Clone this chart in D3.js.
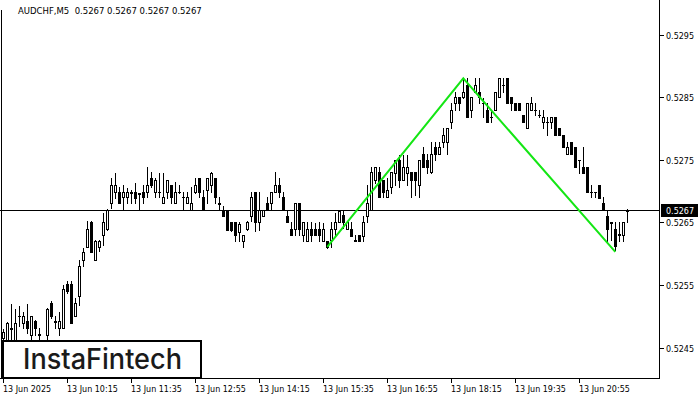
<!DOCTYPE html>
<html><head><meta charset="utf-8">
<script src="https://cdn.jsdelivr.net/npm/d3@7"></script>
<style>
html,body{margin:0;padding:0;background:#fff;}
svg{display:block;}
text{white-space:pre;}
</style></head>
<body>
<svg id="chart" width="700" height="400"></svg>
<script>
// ---- data (AUDCHF M5, 13 Jun 2025, bar 0 = 08:55) ----
const symbolTitle = "AUDCHF,M5  0.5267 0.5267 0.5267 0.5267";
const lastPrice = 0.5267;
const opens = [0.52466,0.52463,0.52482,0.52463,0.52501,0.52490,0.52492,0.52471,0.52492,0.52471,
0.52460,0.52471,0.52521,0.52493,0.52481,0.52481,0.52551,0.52551,0.52500,0.52532,
0.52590,0.52611,0.52651,0.52590,0.52611,0.52630,0.52640,0.52681,0.52699,0.52699,
0.52691,0.52691,0.52697,0.52699,0.52697,0.52699,0.52699,0.52721,0.52699,0.52699,
0.52681,0.52699,0.52710,0.52681,0.52699,0.52691,0.52681,0.52670,0.52699,0.52721,
0.52691,0.52702,0.52710,0.52721,0.52681,0.52670,0.52670,0.52651,0.52651,0.52635,
0.52620,0.52639,0.52660,0.52699,0.52651,0.52660,0.52681,0.52681,0.52699,0.52710,
0.52691,0.52661,0.52639,0.52639,0.52681,0.52630,0.52620,0.52639,0.52639,0.52639,
0.52620,0.52620,0.52622,0.52639,0.52650,0.52662,0.52639,0.52639,0.52622,0.52630,
0.52629,0.52660,0.52670,0.52718,0.52731,0.52718,0.52691,0.52707,0.52729,0.52750,
0.52718,0.52729,0.52730,0.52730,0.52709,0.52760,0.52750,0.52730,0.52770,0.52760,
0.52779,0.52779,0.52811,0.52841,0.52851,0.52851,0.52870,0.52830,0.52859,0.52859,
0.52841,0.52830,0.52819,0.52830,0.52851,0.52870,0.52880,0.52851,0.52841,0.52841,
0.52822,0.52801,0.52830,0.52830,0.52822,0.52811,0.52811,0.52811,0.52819,0.52801,
0.52790,0.52760,0.52779,0.52770,0.52750,0.52739,0.52739,0.52699,0.52699,0.52710,
0.52681,0.52661,0.52650,0.52639,0.52630,0.52630,0.52669];
const highs = [0.52480,0.52491,0.52520,0.52511,0.52516,0.52507,0.52520,0.52501,0.52494,0.52481,
0.52462,0.52513,0.52524,0.52500,0.52507,0.52550,0.52556,0.52556,0.52529,0.52590,
0.52609,0.52652,0.52652,0.52622,0.52622,0.52665,0.52672,0.52721,0.52729,0.52707,
0.52710,0.52705,0.52702,0.52713,0.52697,0.52710,0.52739,0.52731,0.52721,0.52729,
0.52729,0.52718,0.52710,0.52715,0.52710,0.52699,0.52699,0.52707,0.52721,0.52721,
0.52702,0.52721,0.52731,0.52721,0.52691,0.52676,0.52670,0.52651,0.52651,0.52651,
0.52630,0.52652,0.52699,0.52699,0.52699,0.52670,0.52691,0.52699,0.52730,0.52721,
0.52699,0.52670,0.52651,0.52681,0.52681,0.52650,0.52651,0.52651,0.52649,0.52651,
0.52649,0.52620,0.52651,0.52665,0.52670,0.52670,0.52651,0.52651,0.52630,0.52630,
0.52660,0.52710,0.52739,0.52739,0.52739,0.52718,0.52721,0.52731,0.52750,0.52758,
0.52758,0.52758,0.52730,0.52730,0.52750,0.52770,0.52760,0.52779,0.52779,0.52779,
0.52801,0.52801,0.52841,0.52859,0.52851,0.52880,0.52880,0.52851,0.52880,0.52880,
0.52848,0.52841,0.52830,0.52859,0.52880,0.52880,0.52880,0.52851,0.52841,0.52841,
0.52822,0.52841,0.52851,0.52841,0.52830,0.52830,0.52819,0.52819,0.52819,0.52801,
0.52790,0.52779,0.52779,0.52770,0.52750,0.52770,0.52739,0.52710,0.52699,0.52710,
0.52691,0.52669,0.52650,0.52650,0.52650,0.52650,0.52671];
const lows = [0.52455,0.52455,0.52463,0.52458,0.52484,0.52482,0.52473,0.52463,0.52471,0.52463,
0.52455,0.52463,0.52498,0.52482,0.52471,0.52481,0.52537,0.52489,0.52500,0.52518,
0.52580,0.52611,0.52602,0.52590,0.52604,0.52614,0.52638,0.52673,0.52689,0.52681,
0.52670,0.52681,0.52681,0.52681,0.52670,0.52681,0.52691,0.52707,0.52691,0.52691,
0.52681,0.52689,0.52681,0.52681,0.52697,0.52670,0.52681,0.52670,0.52697,0.52691,
0.52670,0.52681,0.52699,0.52681,0.52670,0.52660,0.52638,0.52636,0.52620,0.52620,
0.52611,0.52638,0.52652,0.52637,0.52638,0.52660,0.52670,0.52670,0.52699,0.52691,
0.52670,0.52651,0.52630,0.52630,0.52630,0.52620,0.52620,0.52620,0.52630,0.52620,
0.52620,0.52609,0.52611,0.52630,0.52650,0.52641,0.52639,0.52629,0.52620,0.52620,
0.52620,0.52650,0.52670,0.52713,0.52691,0.52691,0.52691,0.52697,0.52709,0.52707,
0.52718,0.52709,0.52691,0.52694,0.52691,0.52739,0.52729,0.52729,0.52750,0.52760,
0.52770,0.52760,0.52801,0.52830,0.52830,0.52848,0.52819,0.52819,0.52859,0.52841,
0.52819,0.52811,0.52811,0.52830,0.52851,0.52859,0.52841,0.52830,0.52830,0.52830,
0.52811,0.52801,0.52830,0.52822,0.52819,0.52801,0.52790,0.52801,0.52790,0.52790,
0.52770,0.52760,0.52760,0.52739,0.52729,0.52729,0.52699,0.52691,0.52691,0.52689,
0.52670,0.52620,0.52622,0.52606,0.52620,0.52620,0.52650];
const closes = [0.52475,0.52490,0.52480,0.52490,0.52500,0.52501,0.52481,0.52501,0.52481,0.52472,
0.52458,0.52511,0.52500,0.52491,0.52492,0.52543,0.52540,0.52489,0.52521,0.52581,
0.52602,0.52640,0.52602,0.52620,0.52620,0.52650,0.52670,0.52710,0.52710,0.52681,
0.52699,0.52699,0.52698,0.52689,0.52696,0.52691,0.52710,0.52710,0.52718,0.52698,
0.52691,0.52718,0.52691,0.52699,0.52698,0.52690,0.52691,0.52681,0.52710,0.52699,
0.52670,0.52721,0.52729,0.52691,0.52680,0.52660,0.52638,0.52638,0.52630,0.52648,
0.52630,0.52651,0.52691,0.52651,0.52670,0.52670,0.52670,0.52699,0.52710,0.52699,
0.52670,0.52651,0.52630,0.52681,0.52639,0.52650,0.52639,0.52630,0.52630,0.52630,
0.52639,0.52611,0.52639,0.52650,0.52669,0.52650,0.52650,0.52629,0.52621,0.52620,
0.52650,0.52681,0.52730,0.52739,0.52691,0.52699,0.52701,0.52731,0.52750,0.52718,
0.52739,0.52739,0.52718,0.52718,0.52750,0.52739,0.52739,0.52760,0.52760,0.52770,
0.52790,0.52801,0.52830,0.52851,0.52841,0.52859,0.52819,0.52851,0.52870,0.52851,
0.52840,0.52811,0.52818,0.52859,0.52880,0.52869,0.52841,0.52841,0.52830,0.52830,
0.52811,0.52841,0.52841,0.52829,0.52821,0.52819,0.52810,0.52819,0.52790,0.52790,
0.52770,0.52770,0.52760,0.52739,0.52749,0.52729,0.52699,0.52698,0.52698,0.52689,
0.52670,0.52639,0.52649,0.52612,0.52631,0.52650,0.52670];
const priceTicks = [0.5245, 0.5255, 0.5265, 0.5275, 0.5285, 0.5295];
const timeTickIdx = [0, 16, 32, 48, 64, 80, 96, 112, 128, 144];
const timeTickLabels = ["13 Jun 2025","13 Jun 10:15","13 Jun 11:35","13 Jun 12:55","13 Jun 14:15",
"13 Jun 15:35","13 Jun 16:55","13 Jun 18:15","13 Jun 19:35","13 Jun 20:55"];
// double-bottom/top pattern line (bar index, price)
const patternIdx = [81, 115, 153];
const patternPrice = [0.52611, 0.52880, 0.52603];
const logoText = "InstaFintech";

// ---- drawing ----
const svg = d3.select("#chart");
const W = 700, H = 400;
const plotRight = 659, plotBottom = 378;
const x = d3.scaleLinear().domain([0, 156]).range([3.3, 627.3]);
const y = d3.scaleLinear().domain([0.5245, 0.5295]).range([347.7, 34.5]);
const font = "'DejaVu Sans', Tahoma, sans-serif";

const g = svg.append("g").attr("shape-rendering", "crispEdges");

// current price line
const py = Math.round(y(lastPrice));
g.append("line").attr("x1", 0).attr("x2", plotRight).attr("y1", py + 0.5).attr("y2", py + 0.5)
  .attr("stroke", "#000").attr("stroke-width", 1);

// candles
const bars = d3.range(opens.length).map(i => ({i, o: opens[i], h: highs[i], l: lows[i], c: closes[i]}));
const cg = g.append("g");
bars.forEach(d => {
  const cx = Math.floor(x(d.i));
  const yh = Math.round(y(d.h)), yl = Math.round(y(d.l));
  const yTop = Math.round(y(Math.max(d.o, d.c))), yBot = Math.round(y(Math.min(d.o, d.c)));
  cg.append("rect").attr("x", cx).attr("y", yh).attr("width", 1).attr("height", Math.max(1, yl - yh + 1)).attr("fill", "#000");
  const bh = Math.max(1, yBot - yTop + 1);
  cg.append("rect").attr("x", cx - 1).attr("y", yTop).attr("width", 3).attr("height", bh).attr("fill", "#000");
  if (d.c > d.o && bh >= 3) {
    cg.append("rect").attr("x", cx).attr("y", yTop + 1).attr("width", 1).attr("height", bh - 2).attr("fill", "#fff");
  }
});

// pattern line
const pts = patternIdx.map((v, k) => [x(v), y(patternPrice[k])]);
svg.append("path").attr("d", d3.line()(pts)).attr("fill", "none")
  .attr("stroke", "#14e614").attr("stroke-width", 2).attr("stroke-linejoin", "miter");

// frame
g.append("line").attr("x1", plotRight + 0.5).attr("x2", plotRight + 0.5).attr("y1", 0).attr("y2", plotBottom + 1).attr("stroke", "#000");
g.append("line").attr("x1", 0).attr("x2", plotRight + 1).attr("y1", plotBottom + 0.5).attr("y2", plotBottom + 0.5).attr("stroke", "#000");
g.append("line").attr("x1", 1.5).attr("x2", 1.5).attr("y1", 10).attr("y2", plotBottom + 1).attr("stroke", "#000");

// right axis
priceTicks.forEach(p => {
  const ty = Math.round(y(p));
  g.append("line").attr("x1", plotRight + 1).attr("x2", plotRight + 5).attr("y1", ty + 0.5).attr("y2", ty + 0.5).attr("stroke", "#000");
  svg.append("text").attr("x", 666).attr("y", ty + 4).attr("font-family", font).attr("font-size", "8px")
    .attr("fill", "#000").text(d3.format(".4f")(p));
});
// last price label
svg.append("rect").attr("x", 661).attr("y", py - 6).attr("width", 37).attr("height", 13).attr("fill", "#000");
svg.append("text").attr("x", 666).attr("y", py + 4).attr("font-family", font).attr("font-size", "8px")
  .attr("fill", "#fff").text(d3.format(".4f")(lastPrice));

// bottom axis
timeTickIdx.forEach((idx, k) => {
  const tx = Math.floor(x(idx));
  g.append("line").attr("x1", tx + 0.5).attr("x2", tx + 0.5).attr("y1", plotBottom + 1).attr("y2", plotBottom + 5).attr("stroke", "#000");
  svg.append("text").attr("x", tx).attr("y", 392).attr("font-family", font).attr("font-size", "8px")
    .attr("fill", "#000").text(timeTickLabels[k]);
});

// title
svg.append("text").attr("x", 18).attr("y", 14).attr("font-family", font).attr("font-size", "8.5px")
  .attr("fill", "#000").text(symbolTitle);

// logo
svg.append("rect").attr("x", 3).attr("y", 341).attr("width", 198).attr("height", 37)
  .attr("fill", "#fff").attr("stroke", "#000").attr("stroke-width", 2);
svg.append("text").attr("x", 23).attr("y", 369).attr("font-family", "Inter, 'Noto Sans', sans-serif")
  .attr("font-size", "28px").attr("font-weight", 500).attr("fill", "#1a1a1a")
  .attr("textLength", 159).attr("lengthAdjust", "spacingAndGlyphs").text(logoText);
</script>
</body></html>
